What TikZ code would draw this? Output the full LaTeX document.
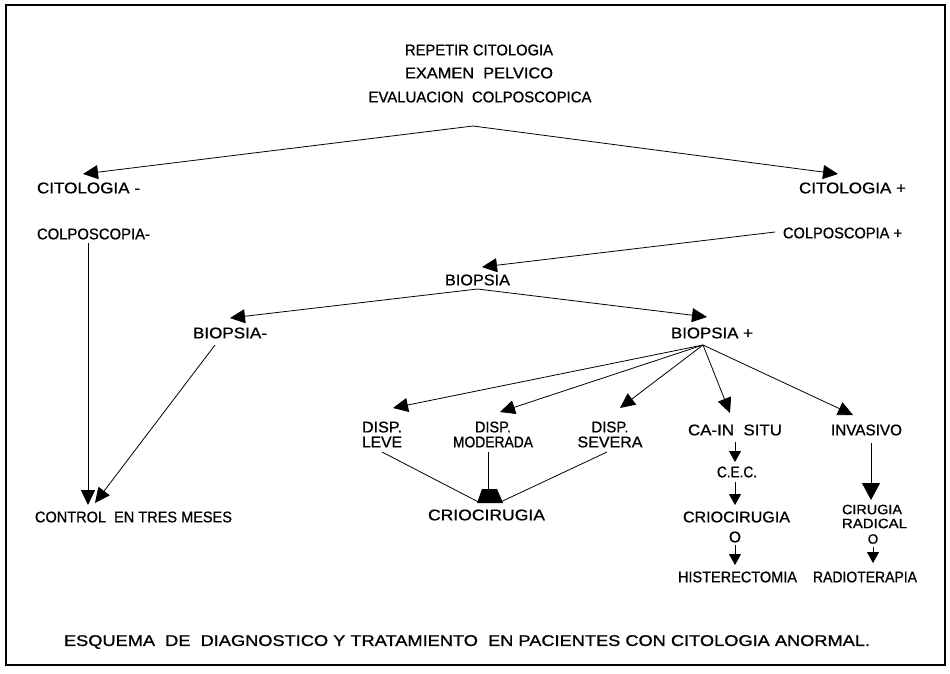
\documentclass[tikz,border=0pt]{standalone}
\usepackage{fontspec}
\setmainfont{Liberation Sans}[FakeBold=0.8]
\usepackage{graphicx}
\usetikzlibrary{arrows.meta}
\newcommand{\tw}[2]{\resizebox{#1pt}{\height}{#2}}
\begin{document}
\begin{tikzpicture}[x=1pt,y=-1pt,
  lab/.style={inner sep=0pt,font=\fontsize{15.5}{15}\selectfont},
  slab/.style={inner sep=0pt,font=\fontsize{13.5}{13}\selectfont},
  mlab/.style={lab,align=center},
  conn/.style={line width=0.8pt},
  big/.style={conn,-{Triangle[length=15pt,width=14pt]}},
  small/.style={conn,-{Triangle[length=11pt,width=12pt]}}]
\useasboundingbox (0,0) rectangle (950,673);
\fill[white] (0,0) rectangle (950,673);
\draw[line width=1.8pt] (6,5) rectangle (945,665);

% nodes
\node[lab] (rep) at (479,50) {\tw{148}{REPETIR CITOLOGIA}};
\node[lab] (exa) at (479,73) {\tw{148}{EXAMEN\ \ PELVICO}};
\node[lab] (eva) at (480,97) {\tw{223}{EVALUACION\ \ COLPOSCOPICA}};
\coordinate (apex) at ([shift={(-7,29)}]eva.center);

\node[lab] (citneg) at (88.5,188) {\tw{103}{CITOLOGIA -}};
\node[lab] (colneg) at (93.5,234) {\tw{113}{COLPOSCOPIA-}};
\node[lab] (citpos) at (852.5,188) {\tw{107}{CITOLOGIA +}};
\node[lab] (colpos) at (842.5,233) {\tw{119}{COLPOSCOPIA +}};
\node[lab] (bio) at (477.5,280) {\tw{65}{BIOPSIA}};
\node[lab] (bioneg) at (230,333) {\tw{74}{BIOPSIA-}};
\node[lab] (biopos) at (712,333) {\tw{82}{BIOPSIA +}};

\node[mlab] (leve) at (382,434.5) {\tw{40}{DISP.}\\\tw{40}{LEVE}};
\node[mlab] (mod) at (493,434.5) {\tw{36}{DISP.}\\\tw{80}{MODERADA}};
\node[mlab] (sev) at (610,434.5) {\tw{37}{DISP.}\\\tw{65}{SEVERA}};
\node[lab] (crio) at (486.5,515) {\tw{117}{CRIOCIRUGIA}};

\node[lab] (cis) at (735,430) {\tw{94}{CA-IN\ \ SITU}};
\node[lab] (inv) at (866.5,430) {\tw{71}{INVASIVO}};
\node[lab] (cec) at (737,472) {\tw{40}{C.E.C.}};
\node[lab] (crio2) at (736.5,517) {\tw{107}{CRIOCIRUGIA}};
\node[lab] (o1) at (735,537) {O};
\node[lab] (hist) at (737.5,577) {\tw{119}{HISTERECTOMIA}};
\node[slab] (cir) at (872,509.5) {\tw{60}{CIRUGIA}};
\node[slab] (rad) at (874.5,523.5) {\tw{65}{RADICAL}};
\node[slab] (o2) at (873,539) {O};
\node[lab] (radio) at (865,577) {\tw{104}{RADIOTERAPIA}};

\node[lab] (control) at (133.5,517) {\tw{197}{CONTROL\ \ EN TRES MESES}};
\node[lab] (cap) at (467,642) {\tw{806}{ESQUEMA\ \ DE\ \ DIAGNOSTICO Y TRATAMIENTO\ \ EN PACIENTES CON CITOLOGIA ANORMAL.}};

% connectors
\draw[big] (apex) -- ([shift={(-5.5,-14)}]citneg.center);
\draw[big] (apex) -- ([shift={(-14.5,-14)}]citpos.center);
\draw[big] ([shift={(-67.5,-1)}]colpos.center) -- ([shift={(4.5,-13)}]bio.center);
\coordinate (bfork) at ([shift={(0,9)}]bio.center);
\draw[big] (bfork) -- ([shift={(0,-15)}]bioneg.center);
\draw[big] (bfork) -- ([shift={(-5,-16)}]biopos.center);

\coordinate (fan) at ([shift={(-9,12)}]biopos.center);
\draw[big] (fan) -- ([shift={(11,-26.5)}]leve.center);
\draw[big] (fan) -- ([shift={(7,-22.5)}]mod.center);
\draw[big] (fan) -- ([shift={(10,-26.5)}]sev.center);
\draw[big] (fan) -- ([shift={(-5,-17)}]cis.center);
\draw[big] (fan) -- ([shift={(-13.5,-15)}]inv.center);

% merged arrowhead into CRIOCIRUGIA
\coordinate (mtl) at ([shift={(-4.5,-26)}]crio.center);
\coordinate (mtr) at ([shift={(10.5,-26)}]crio.center);
\coordinate (mbl) at ([shift={(-9.5,-12)}]crio.center);
\coordinate (mbr) at ([shift={(16.5,-12)}]crio.center);
\draw[conn] ([shift={(0,17.5)}]leve.center) -- ([shift={(-8,-13)}]crio.center);
\draw[conn] ([shift={(-5,17.5)}]mod.center) -- ([shift={(1.5,-26)}]crio.center);
\draw[conn] ([shift={(-3,17.5)}]sev.center) -- ([shift={(14,-13)}]crio.center);
\fill (mbl) -- (mtl) -- (mtr) -- (mbr) -- cycle;

\draw[small] ([shift={(0,12)}]cis.center) -- ([shift={(-2,-10)}]cec.center);
\draw[small] ([shift={(-2,10)}]cec.center) -- ([shift={(-1.5,-12)}]crio2.center);
\draw[small] ([shift={(0,8)}]o1.center) -- ([shift={(-2.5,-12)}]hist.center);
\draw[conn,-{Triangle[length=17pt,width=18pt]}] ([shift={(4.5,13)}]inv.center) -- ([shift={(-1,-9.5)}]cir.center);
\draw[small] ([shift={(0,8)}]o2.center) -- ([shift={(8,-14)}]radio.center);

\draw[big] ([shift={(-5.5,9)}]colneg.center) -- ([shift={(-45.5,-12)}]control.center);
\draw[big] ([shift={(-15,12)}]bioneg.center) -- ([shift={(-38.5,-14)}]control.center);
\end{tikzpicture}
\end{document}
